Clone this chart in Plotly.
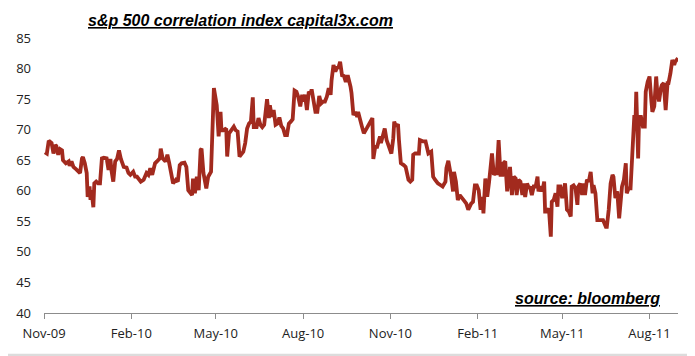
import plotly.graph_objects as go

# S&P 500 correlation index
dates = [
    "2009-11-02", "2009-11-04", "2009-11-06", "2009-11-09", "2009-11-11", "2009-11-13", "2009-11-14",
    "2009-11-16", "2009-11-18", "2009-11-20", "2009-11-21", "2009-11-24", "2009-11-27", "2009-11-28",
    "2009-11-30", "2009-12-02", "2009-12-05", "2009-12-07", "2009-12-09", "2009-12-11", "2009-12-12",
    "2009-12-14", "2009-12-16", "2009-12-17", "2009-12-19", "2009-12-20", "2009-12-21", "2009-12-23",
    "2009-12-24", "2009-12-26", "2009-12-28", "2009-12-30",
    "2010-01-01", "2010-01-03", "2010-01-06", "2010-01-08", "2010-01-10", "2010-01-11", "2010-01-13",
    "2010-01-15", "2010-01-17", "2010-01-19", "2010-01-21", "2010-01-24", "2010-01-27", "2010-01-29",
    "2010-01-31", "2010-02-03", "2010-02-05", "2010-02-07", "2010-02-09", "2010-02-11", "2010-02-14",
    "2010-02-17", "2010-02-19", "2010-02-21", "2010-02-23", "2010-02-26", "2010-02-28", "2010-03-03",
    "2010-03-04", "2010-03-06", "2010-03-09", "2010-03-11", "2010-03-13", "2010-03-16", "2010-03-17",
    "2010-03-20", "2010-03-22", "2010-03-24", "2010-03-26", "2010-03-29", "2010-03-31", "2010-04-02",
    "2010-04-04", "2010-04-06", "2010-04-07", "2010-04-09", "2010-04-11", "2010-04-13", "2010-04-15",
    "2010-04-16", "2010-04-18", "2010-04-21", "2010-04-23", "2010-04-26", "2010-04-29", "2010-04-30",
    "2010-05-02", "2010-05-04", "2010-05-06", "2010-05-07", "2010-05-09", "2010-05-12", "2010-05-13",
    "2010-05-15", "2010-05-17", "2010-05-20", "2010-05-22", "2010-05-24", "2010-05-26", "2010-05-28",
    "2010-05-30", "2010-06-01", "2010-06-03", "2010-06-05", "2010-06-07", "2010-06-09", "2010-06-10",
    "2010-06-13", "2010-06-15", "2010-06-17", "2010-06-19", "2010-06-21", "2010-06-24", "2010-06-26",
    "2010-06-27", "2010-06-29", "2010-07-01", "2010-07-03", "2010-07-05", "2010-07-07", "2010-07-09",
    "2010-07-11", "2010-07-13", "2010-07-15", "2010-07-17", "2010-07-19", "2010-07-21", "2010-07-23",
    "2010-07-25", "2010-07-27", "2010-07-29", "2010-07-31", "2010-08-01", "2010-08-03", "2010-08-05",
    "2010-08-07", "2010-08-09", "2010-08-10", "2010-08-12", "2010-08-14", "2010-08-16", "2010-08-18",
    "2010-08-20", "2010-08-22", "2010-08-24", "2010-08-26", "2010-08-28", "2010-08-30", "2010-08-31",
    "2010-09-02", "2010-09-04", "2010-09-06", "2010-09-07", "2010-09-09", "2010-09-11", "2010-09-13",
    "2010-09-15", "2010-09-17", "2010-09-20", "2010-09-21", "2010-09-23", "2010-09-25", "2010-09-27",
    "2010-09-28", "2010-10-02", "2010-10-04", "2010-10-07", "2010-10-11", "2010-10-13", "2010-10-14",
    "2010-10-16", "2010-10-18", "2010-10-21", "2010-10-22", "2010-10-24", "2010-10-26", "2010-10-28",
    "2010-10-30", "2010-11-02", "2010-11-04", "2010-11-05", "2010-11-07", "2010-11-09", "2010-11-10",
    "2010-11-12", "2010-11-15", "2010-11-17", "2010-11-20", "2010-11-22", "2010-11-24", "2010-11-25",
    "2010-11-27", "2010-12-01", "2010-12-02", "2010-12-05", "2010-12-08", "2010-12-10", "2010-12-11",
    "2010-12-14", "2010-12-16", "2010-12-18", "2010-12-21", "2010-12-24", "2010-12-26", "2010-12-29",
    "2010-12-30",
    "2011-01-01", "2011-01-02", "2011-01-04", "2011-01-06", "2011-01-07", "2011-01-09", "2011-01-11",
    "2011-01-13", "2011-01-15", "2011-01-17", "2011-01-20", "2011-01-22", "2011-01-25", "2011-01-27",
    "2011-01-29", "2011-01-31", "2011-02-02", "2011-02-04", "2011-02-06", "2011-02-07", "2011-02-09",
    "2011-02-11", "2011-02-13", "2011-02-14", "2011-02-16", "2011-02-18", "2011-02-20", "2011-02-21",
    "2011-02-23", "2011-02-25", "2011-02-27", "2011-02-28", "2011-03-02", "2011-03-04", "2011-03-06",
    "2011-03-07", "2011-03-09", "2011-03-11", "2011-03-13", "2011-03-14", "2011-03-16", "2011-03-18",
    "2011-03-20", "2011-03-21", "2011-03-23", "2011-03-25", "2011-03-27", "2011-03-28", "2011-03-30",
    "2011-04-01", "2011-04-03", "2011-04-05", "2011-04-06", "2011-04-08", "2011-04-10", "2011-04-12",
    "2011-04-13", "2011-04-15", "2011-04-17", "2011-04-19", "2011-04-20", "2011-04-22", "2011-04-24",
    "2011-04-26", "2011-04-27", "2011-04-29", "2011-05-01", "2011-05-03", "2011-05-04", "2011-05-06",
    "2011-05-08", "2011-05-10", "2011-05-11", "2011-05-13", "2011-05-15", "2011-05-17", "2011-05-18",
    "2011-05-20", "2011-05-22", "2011-05-24", "2011-05-25", "2011-05-27", "2011-05-29", "2011-05-31",
    "2011-06-02", "2011-06-03", "2011-06-05", "2011-06-07", "2011-06-10", "2011-06-13", "2011-06-16",
    "2011-06-17", "2011-06-19", "2011-06-21", "2011-06-23", "2011-06-24", "2011-06-26", "2011-06-28",
    "2011-06-30", "2011-07-01", "2011-07-03", "2011-07-05", "2011-07-07", "2011-07-08", "2011-07-10",
    "2011-07-12", "2011-07-13", "2011-07-15", "2011-07-16", "2011-07-17", "2011-07-18", "2011-07-20",
    "2011-07-21", "2011-07-23", "2011-07-25", "2011-07-27", "2011-07-28", "2011-07-30", "2011-08-01",
    "2011-08-03", "2011-08-04", "2011-08-06", "2011-08-08", "2011-08-09", "2011-08-11", "2011-08-13",
    "2011-08-14", "2011-08-16", "2011-08-18", "2011-08-20", "2011-08-21", "2011-08-23", "2011-08-25",
    "2011-08-27", "2011-08-28", "2011-08-31",
]

correlation = [
    66.3, 66.1, 68.2, 67.8, 66.1, 67.5, 67.3,
    65.9, 66.8, 66.6, 65.0, 64.5, 64.8, 64.1,
    64.8, 63.9, 63.5, 63.1, 62.9, 65.3, 65.5,
    64.5, 62.9, 59.0, 60.7, 58.5, 60.1, 57.3,
    61.2, 61.5, 61.2, 61.2,
    65.3, 65.4, 65.3, 63.4, 65.2, 63.4, 61.5,
    64.8, 65.2, 66.6, 65.2, 63.9, 63.8, 62.9,
    62.6, 63.1, 62.3, 62.3, 62.0, 61.5, 61.8,
    62.9, 62.6, 63.7, 62.6, 64.5, 64.8, 65.3,
    66.9, 65.3, 64.8, 65.9, 64.5, 61.8, 61.2,
    61.8, 61.5, 64.2, 64.5, 64.6, 63.9, 60.1,
    59.6, 59.3, 62.0, 59.6, 62.3, 60.1, 66.7,
    66.9, 62.9, 60.4, 62.3, 63.1, 76.8, 75.7,
    74.0, 68.9, 72.9, 69.9, 69.9, 70.2, 65.6,
    69.4, 69.9, 70.5, 69.9, 69.7, 65.6, 66.1,
    66.4, 67.8, 70.2, 71.0, 71.3, 75.3, 70.4,
    70.4, 71.9, 70.8, 70.4, 70.8, 75.0, 71.9,
    74.0, 72.1, 73.2, 70.8, 71.0, 72.0, 70.6,
    70.2, 69.1, 69.1, 71.0, 71.3, 71.7, 76.4,
    76.2, 75.3, 73.8, 75.7, 74.6, 75.7, 73.2,
    76.2, 75.9, 76.6, 75.1, 72.9, 72.9, 75.5,
    74.3, 74.6, 74.6, 75.4, 76.8, 75.7, 78.1,
    80.6, 79.5, 80.3, 80.0, 81.1, 78.9, 78.8,
    77.8, 78.9, 77.0, 76.0, 72.4, 72.9, 72.1,
    72.9, 70.5, 69.4, 70.2, 71.5, 71.9, 65.2,
    67.2, 67.2, 68.9, 67.8, 68.9, 70.2, 68.3,
    67.5, 66.1, 68.6, 71.3, 70.5, 70.9, 68.3,
    64.5, 64.2, 63.9, 61.8, 61.5, 61.8, 65.9,
    66.1, 66.1, 68.3, 68.1, 68.1, 66.7, 66.1,
    66.4, 62.3, 61.8, 61.2, 60.9, 60.7, 61.5,
    63.7,
    64.9, 64.2, 62.3, 59.9, 63.1, 61.5, 58.5,
    59.3, 59.0, 58.5, 57.9, 56.9, 57.9, 58.2,
    60.9, 60.9, 60.1, 56.9, 59.0, 56.3, 62.0,
    59.0, 61.5, 63.7, 66.1, 62.6, 63.1, 62.6,
    68.3, 62.6, 62.6, 64.5, 64.8, 59.9, 63.9,
    63.9, 59.3, 62.3, 62.0, 59.3, 61.8, 61.5,
    59.3, 61.2, 59.0, 61.2, 60.4, 60.7, 59.3,
    60.7, 60.7, 62.3, 59.9, 60.7, 59.9, 61.5,
    56.6, 56.6, 57.1, 52.5, 58.2, 58.5, 59.6,
    57.4, 60.7, 60.7, 58.8, 60.9, 61.2, 56.9,
    56.6, 55.8, 60.7, 60.9, 60.4, 57.7, 60.7,
    61.2, 59.3, 61.2, 59.3, 61.8, 61.5, 63.1,
    59.6, 60.9, 59.6, 55.2, 55.2, 55.2, 54.1,
    54.1, 56.9, 61.2, 62.6, 62.3, 58.8, 59.9,
    55.5, 56.9, 60.7, 61.8, 64.5, 59.6, 60.4,
    60.4, 63.4, 66.4, 72.4, 69.9, 76.2, 65.3,
    72.1, 72.1, 70.5, 70.5, 76.2, 77.8, 78.7,
    74.6, 72.9, 73.8, 78.7, 76.5, 74.6, 76.8,
    77.3, 77.6, 73.2, 77.6, 77.6, 79.2, 81.4,
    80.6, 81.1, 81.7,
]

tick_dates = ["2009-11-01", "2010-02-01", "2010-05-01", "2010-08-01",
              "2010-11-01", "2011-02-01", "2011-05-01", "2011-08-01"]
tick_labels = ["Nov-09", "Feb-10", "May-10", "Aug-10",
               "Nov-10", "Feb-11", "May-11", "Aug-11"]

title_text = "s&p 500 correlation index capital3x.com"
source_text = "source: bloomberg"

fig = go.Figure()
fig.add_trace(go.Scatter(
    x=dates, y=correlation, mode="lines",
    line=dict(color="#A22A1E", width=3.8),
    hoverinfo="x+y", showlegend=False,
))

fig.update_layout(
    width=687, height=348,
    margin=dict(l=36, r=17, t=30, b=43),
    paper_bgcolor="white", plot_bgcolor="white",
    font=dict(family="Open Sans, Noto Sans, sans-serif", size=13, color="#222222"),
    xaxis=dict(
        type="date", range=["2009-11-01", "2011-08-31"],
        tickmode="array", tickvals=tick_dates, ticktext=tick_labels,
        showgrid=False, zeroline=False,
        showline=True, linecolor="#8c8c8c", linewidth=1,
        ticks="outside", ticklen=5, tickcolor="#8c8c8c", tickwidth=1,
        tickfont=dict(size=13, color="#222222"),
        ticklabelstandoff=3, automargin=False,
    ),
    yaxis=dict(
        range=[40, 85], tickmode="linear", tick0=40, dtick=5,
        showgrid=False, zeroline=False, showline=False, ticks="",
        tickfont=dict(size=13, color="#222222"),
        ticklabelstandoff=12, automargin=False,
    ),
    annotations=[
        dict(text="<b><i>" + title_text + "</i></b>", xref="paper", yref="paper",
             x=0.066, y=1.065, xanchor="left", yanchor="middle", showarrow=False,
             font=dict(family="Liberation Sans, Arial, sans-serif", size=16, color="black",
                       lineposition="under")),
        dict(text="<b><i>" + source_text + "</i></b>", xref="paper", yref="paper",
             x=0.740, y=0.051, xanchor="left", yanchor="middle", showarrow=False,
             font=dict(family="Liberation Sans, Arial, sans-serif", size=16, color="black",
                       lineposition="under")),
    ],
    shapes=[
        dict(type="rect", xref="paper", yref="paper", x0=-0.08, x1=1.04,
             y0=-0.2, y1=-0.148, fillcolor="#dcdcdc", line=dict(width=0), layer="below"),
    ],
)

fig.write_html("out.html")
